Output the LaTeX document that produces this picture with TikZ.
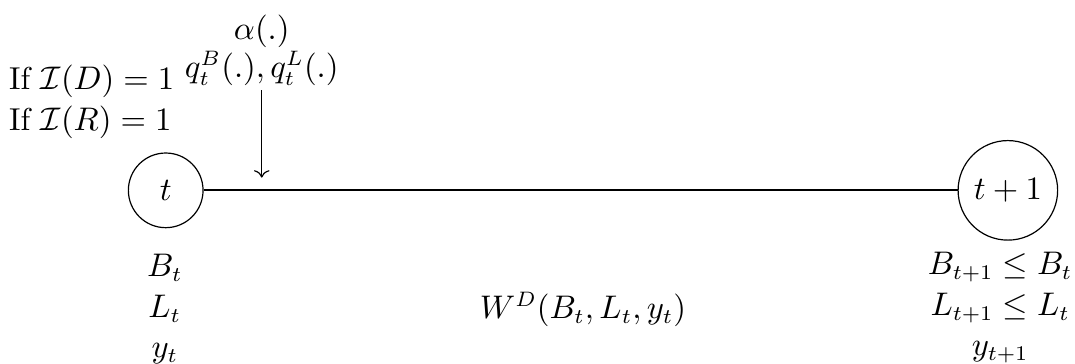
\documentclass[tikz,border=0pt]{standalone}
\usepackage{amsmath,amssymb}
\usepackage{tikz}
\usetikzlibrary{arrows.meta,positioning}

\begin{document}
\begin{tikzpicture}[every node/.style={font=\fontsize{10.6}{13.6}\selectfont}, state/.style={circle,draw,minimum size=25pt,inner sep=3.5pt}, lbl/.style={align=center}, arr/.style={->}]
\useasboundingbox (0,0) rectangle (12.65,4.28);
\node[state] (t) at (1.95,2.04) {$t$};
\node[state] (t1) at (11.86,2.04) {$t+1$};
\draw[line width=0.7pt] (t)--(t1);
\node[lbl,inner sep=1.5pt] (ctrl) at (3.08,3.69) {$\alpha(.)$\\[-1pt]$q_t^B(.), q_t^L(.)$};
\coordinate (hit) at (3.08,2.19);
\draw[arr] (ctrl)--(hit);
\node[align=left] (cond) at (1.08,3.08) {If $\mathcal{I}(D)=1$\\If $\mathcal{I}(R)=1$};
\node[lbl] (now) at (1.94,0.64) {$B_t$\\$L_t$\\$y_t$};
\node[lbl] (next) at (11.77,0.66) {$B_{t+1}\leq B_t$\\$L_{t+1}\leq L_t$\\$y_{t+1}$};
\node (wd) at (6.86,0.64) {$W^D(B_t,L_t,y_t)$};
\end{tikzpicture}
\end{document}
